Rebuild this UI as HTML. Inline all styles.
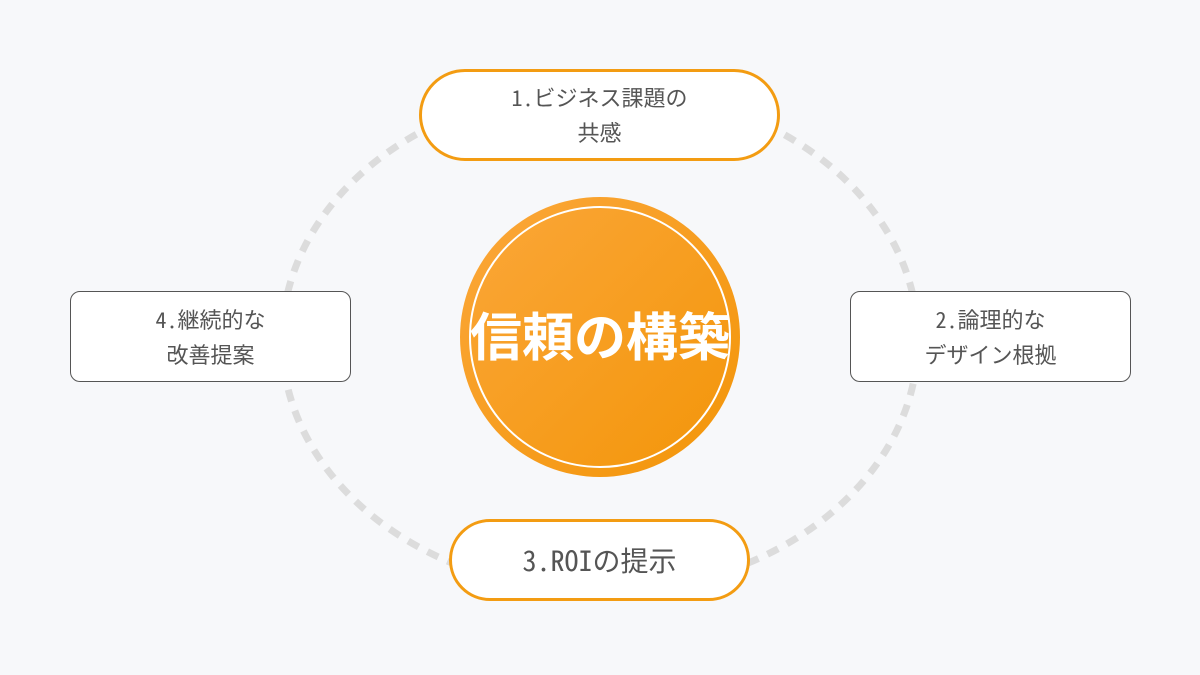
<!DOCTYPE html>
<html><head><meta charset="utf-8"><style>
body{margin:0;width:1200px;height:675px;background:#f7f8fa;position:relative;overflow:hidden;font-family:"Noto Sans Mono CJK JP","Noto Sans CJK JP",monospace;}
.n{position:absolute;box-sizing:border-box;background:#fff;display:flex;align-items:center;justify-content:center;text-align:center;color:#555;font-size:22px;line-height:35px;font-weight:500;}
.o{border:3px solid #f39c12;border-radius:46px;}
.g{border:1.5px solid #555;border-radius:10px;}
</style></head><body>
<svg width="1200" height="675" style="position:absolute;left:0;top:0">
<defs><linearGradient id="gr" x1="0" y1="0" x2="1" y2="1"><stop offset="0" stop-color="#fba73a"/><stop offset="1" stop-color="#f39508"/></linearGradient></defs>
<ellipse cx="600" cy="340" rx="318" ry="252" fill="none" stroke="#dcdcdc" stroke-width="7" stroke-dasharray="12 10"/>
<circle cx="600" cy="337" r="140" fill="url(#gr)"/>
<circle cx="600" cy="337" r="130" fill="none" stroke="#fff" stroke-width="2"/>
<text x="600" y="356" text-anchor="middle" fill="#fff" font-size="52" font-weight="bold" font-family="Noto Sans CJK JP,sans-serif">信頼の構築</text>
</svg>
<div class="n o" style="left:419px;top:69px;width:361px;height:92px">1.ビジネス課題の<br>共感</div>
<div class="n o" style="left:449px;top:519px;width:301px;height:82px;font-size:28px">3.ROIの提示</div>
<div class="n g" style="left:70px;top:291px;width:281px;height:91px">4.継続的な<br>改善提案</div>
<div class="n g" style="left:850px;top:291px;width:281px;height:91px">2.論理的な<br>デザイン根拠</div>
</body></html>
